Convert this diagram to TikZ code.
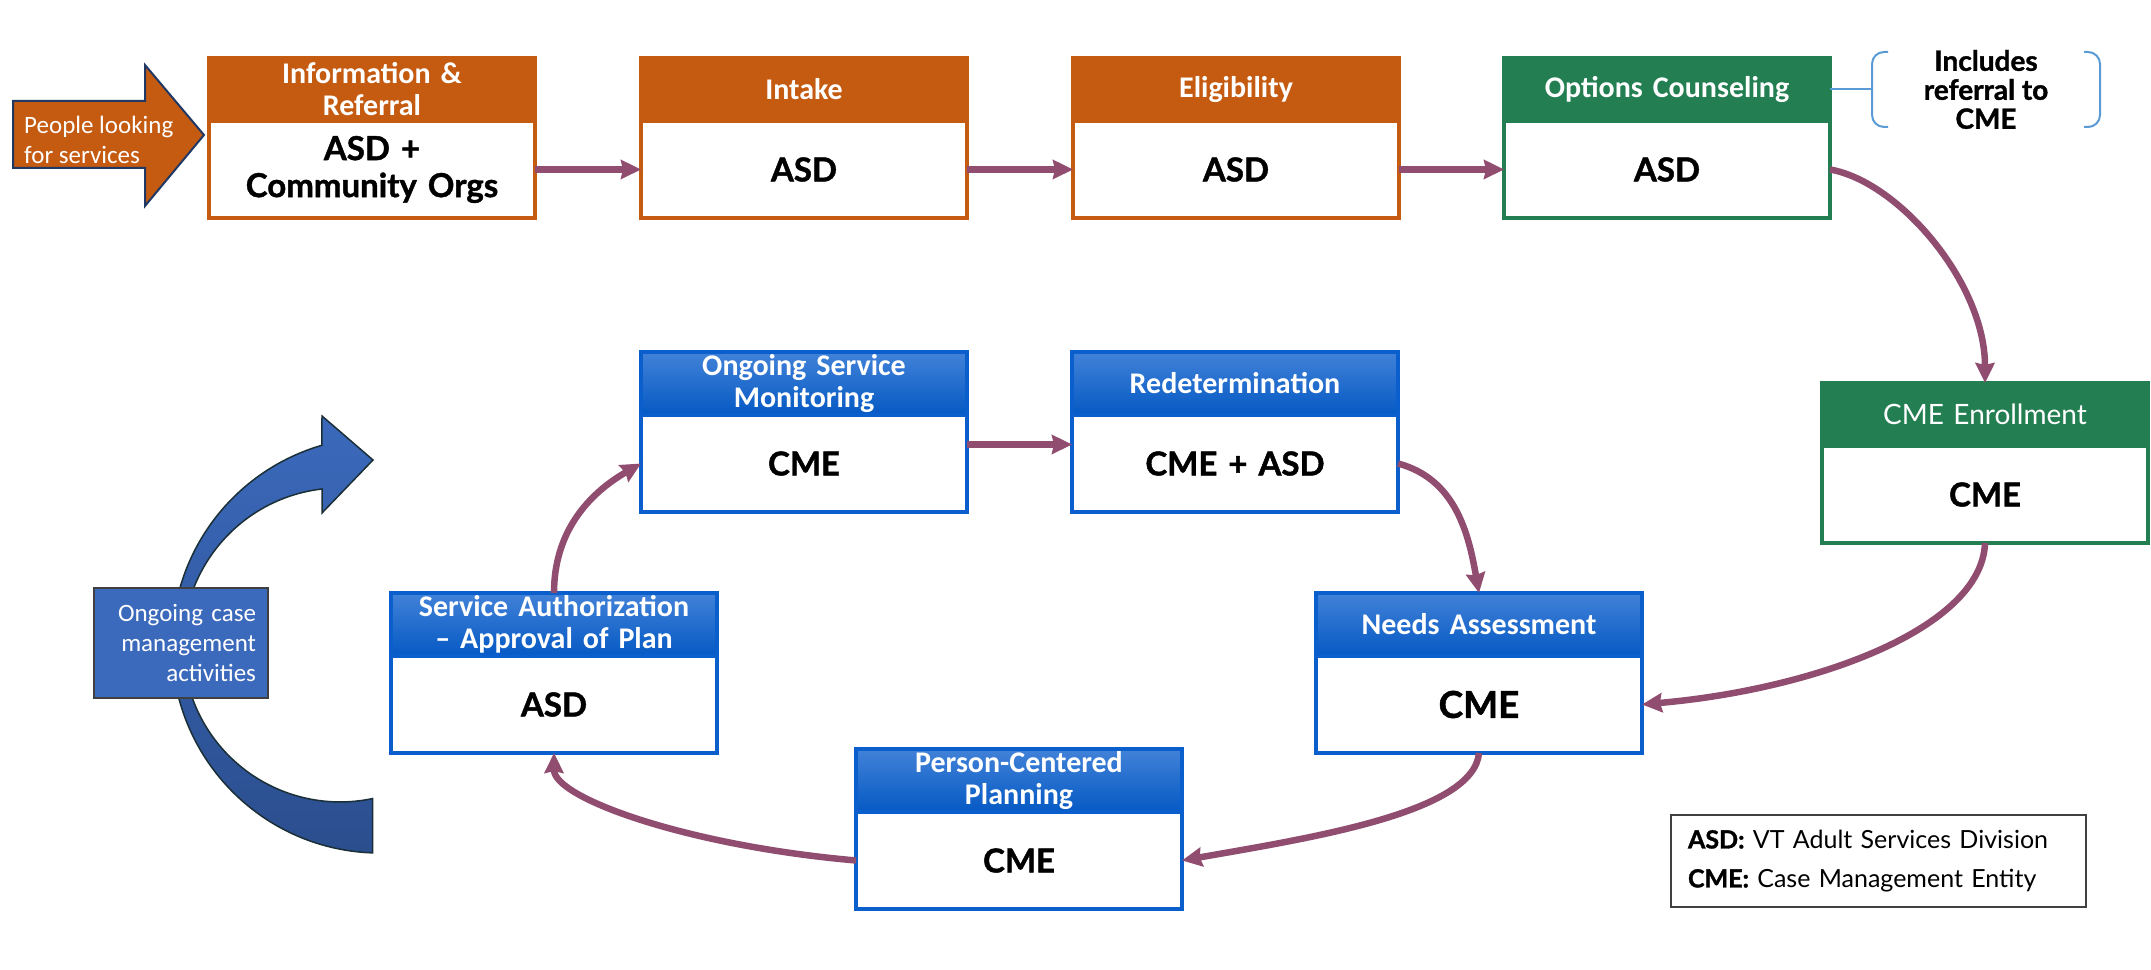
\documentclass[tikz,border=0pt]{standalone}
\usepackage{fontspec}
\setmainfont{Lato}[BoldFeatures={FakeBold=1.3}]
\newfontfamily\carlito{Carlito}
\usetikzlibrary{positioning,arrows.meta}

\definecolor{irorange}{HTML}{C55A11}
\definecolor{ocgreen}{HTML}{237F51}
\definecolor{cmblue}{HTML}{0A5FCC}
\definecolor{cmbluetop}{HTML}{4282D8}
\definecolor{cmbluebot}{HTML}{0559C4}
\definecolor{linkpurple}{HTML}{914D70}
\definecolor{notecolor}{HTML}{5B9BD5}
\definecolor{looplight}{HTML}{3B69BB}
\definecolor{loopdark}{HTML}{2B4E8E}
\definecolor{loopedge}{HTML}{1B2F36}
\definecolor{arrowedge}{HTML}{203864}
\definecolor{legendgray}{HTML}{404040}

\begin{document}
\begin{tikzpicture}[x=1pt, y=1pt]
            \tikzstyle{head}=[rectangle, outer sep=0pt, inner sep=0pt, minimum width=326pt, minimum height=63pt, text width=316pt, align=center, text=white, line width=4pt, font=\carlito\bfseries\fontsize{30pt}{32pt}\selectfont]
            \tikzstyle{body}=[rectangle, outer sep=0pt, inner sep=0pt, minimum width=326pt, minimum height=97pt, text width=316pt, align=center, fill=white, line width=4.5pt, font=\bfseries\fontsize{33pt}{37pt}\selectfont]
            \tikzstyle{orangehead}=[head, draw=irorange, fill=irorange]
            \tikzstyle{orangebody}=[body, draw=irorange]
            \tikzstyle{greenhead}=[head, draw=ocgreen, fill=ocgreen]
            \tikzstyle{greenbody}=[body, draw=ocgreen]
            \tikzstyle{bluehead}=[head, draw=cmblue, top color=cmbluetop, bottom color=cmbluebot]
            \tikzstyle{bluebody}=[body, draw=cmblue]
            \tikzstyle{link}=[color=linkpurple, line width=6.5pt, -{Stealth[length=20pt, width=19pt, inset=2pt]}]
            \tikzstyle{note}=[draw=notecolor, line width=2pt]
            \useasboundingbox (0,0) rectangle (2151,969);
            \fill[white] (0,0) rectangle (2151,969);
            % entry arrow
            \filldraw[fill=irorange, draw=arrowedge, line width=2pt] (13,868) -- (145,868) -- (145,904) -- (204,834) -- (145,763) -- (145,801) -- (13,801) -- cycle;
            \node[anchor=west, align=left, inner sep=0pt, text=white, font=\carlito\fontsize{25pt}{30pt}\selectfont] (people) at (24,829) {People looking\\for services};
            % ongoing loop arrow
            \filldraw[top color=looplight, bottom color=loopdark, draw=loopedge, line width=1.5pt] (372.7,116.1) arc[start angle=268, end angle=106.2, radius=208] -- (322,553) -- (373,509) -- (322,456) -- (322,480) arc[start angle=96.6, end angle=282, radius=157] -- cycle;
            \node[fill=looplight, draw=legendgray, line width=2pt, minimum width=174pt, minimum height=110pt, text width=150pt, align=right, inner sep=0pt, text=white, font=\carlito\fontsize{25pt}{30pt}\selectfont] (casebox) at (181,326) {Ongoing case\\management\\activities};
            % top row
            \node[orangehead] (info-h) at (372,879.5) {Information \&\\Referral};
            \node[orangebody, below=0pt of info-h] (info) {ASD +\\Community Orgs};
            \node[orangehead] (intake-h) at (804,879.5) {Intake};
            \node[orangebody, below=0pt of intake-h] (intake) {ASD};
            \node[orangehead] (elig-h) at (1236,879.5) {Eligibility};
            \node[orangebody, below=0pt of elig-h] (elig) {ASD};
            \node[greenhead] (opts-h) at (1667,879.5) {Options Counseling};
            \node[greenbody, below=0pt of opts-h] (opts) {ASD};
            \node[font=\bfseries\fontsize{28pt}{29pt}\selectfont, align=center, inner sep=0pt] (incl) at (1986,879.5) {Includes\\referral to\\CME};
            \coordinate (incl-l) at (1872,879.5);
            \draw[note, rounded corners=12pt] (1888,917) -- (1872,917) -- (1872,842) -- (1888,842);
            \draw[note, rounded corners=12pt] (2084,917) -- (2100,917) -- (2100,842) -- (2084,842);
            \draw[note] (opts-h.east) -- (incl-l);
            % loop
            \node[greenhead, font=\fontsize{28pt}{30pt}\selectfont] (cmee-h) at (1985,554.5) {CME Enrollment};
            \node[greenbody, below=0pt of cmee-h] (cmee) {CME};
            \node[bluehead] (osm-h) at (804,585.5) {Ongoing Service\\Monitoring};
            \node[bluebody, below=0pt of osm-h] (osm) {CME};
            \node[bluehead] (redet-h) at (1235,585.5) {Redetermination};
            \node[bluebody, below=0pt of redet-h] (redet) {CME + ASD};
            \node[bluehead] (needs-h) at (1479,344.5) {Needs Assessment};
            \node[bluebody, below=0pt of needs-h, font=\bfseries\fontsize{37pt}{40pt}\selectfont] (needs) {CME};
            \node[bluehead] (sauth-h) at (554,344.5) {Service Authorization\\– Approval of Plan};
            \node[bluebody, below=0pt of sauth-h] (sauth) {ASD};
            \node[bluehead] (pcp-h) at (1019,188.5) {Person-Centered\\Planning};
            \node[bluebody, below=0pt of pcp-h] (pcp) {CME};
            \node[draw=legendgray, line width=2pt, minimum width=415pt, minimum height=92pt, text width=381pt, inner sep=0pt, align=left, font=\fontsize{25pt}{39pt}\selectfont] (legend) at (1878.5,108) {\textbf{ASD:} VT Adult Services Division\\\textbf{CME:} Case Management Entity};
            \path [link] (info.east) edge[] (intake.west);
            \path [link] (intake.east) edge[] (elig.west);
            \path [link] (elig.east) edge[] (opts.west);
            \path [link] (opts.east) edge[out=-10, in=90, out distance=70pt, in distance=100pt] (cmee-h.north);
            \path [link] (cmee.south) edge[out=-92, in=5, out distance=85pt, in distance=175pt] (needs.east);
            \path [link] (needs.south) edge[out=-95, in=10, out distance=60pt, in distance=130pt] (pcp.east);
            \path [link] (pcp.west) edge[out=175, in=-90, out distance=170pt, in distance=45pt] (sauth.south);
            \path [link] (sauth-h.north) edge[out=90, in=210] (osm.west);
            \path [link] ([yshift=19pt]osm.east) edge[] ([yshift=19pt]redet.west);
            \path [link] (redet.east) edge[out=-15, in=100] (needs-h.north);
        \end{tikzpicture}
\end{document}
